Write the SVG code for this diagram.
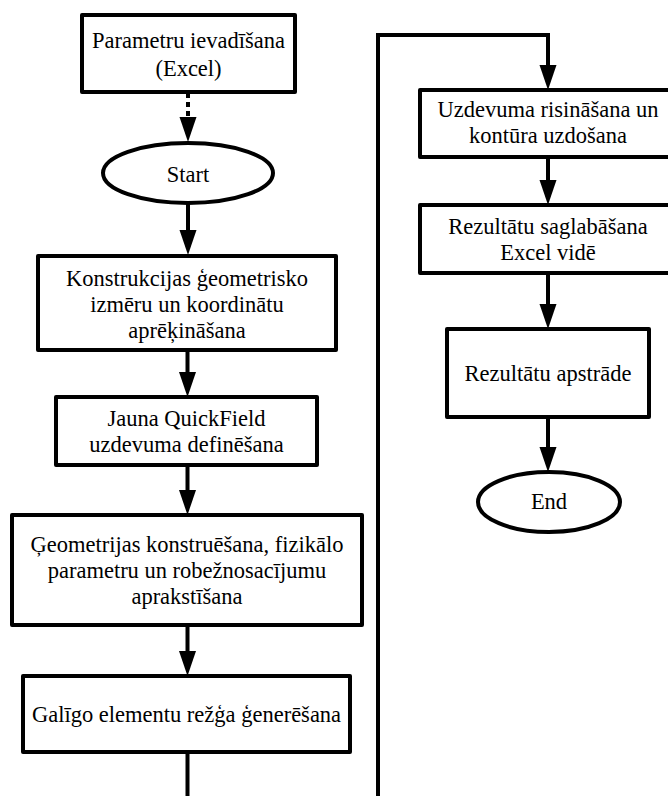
<svg xmlns="http://www.w3.org/2000/svg" width="668" height="796" viewBox="0 0 668 796">
<style>
.box{fill:#fff;stroke:#000;stroke-width:4;stroke-linejoin:round}
.term{fill:#fff;stroke:#000;stroke-width:4}
.lbl{font-family:"Liberation Serif","Times New Roman",serif;font-size:22.5px;fill:#000;text-anchor:middle}
.con{fill:none;stroke:#000;stroke-width:4;marker-end:url(#ah)}
.dot{stroke-dasharray:5 4}
</style>
<defs>
<marker id="ah" markerUnits="userSpaceOnUse" markerWidth="26" markerHeight="18" refX="0" refY="9" orient="auto" overflow="visible">
<path d="M0,0.5 L25,9 L0,17.5 Z" fill="#000"/>
</marker>
</defs>
<rect width="668" height="796" fill="#fff"/>
<g id="connectors">
<path class="con dot" d="M188,93 L188,117"/>
<path class="con" d="M188,203 L188,230"/>
<path class="con" d="M187.5,350 L187.5,372"/>
<path class="con" d="M187.5,465 L187.5,490"/>
<path class="con" d="M187.5,625 L187.5,651"/>
<path class="con" d="M187.5,752 L187.5,800 L378,800 L378,35 L548,35 L548,65"/>
<path class="con" d="M548,157 L548,180"/>
<path class="con" d="M548,273 L548,304"/>
<path class="con" d="M548,417 L548,447"/>
</g>
<g id="n1">
<rect class="box" x="82" y="15" width="213" height="77"/>
<text class="lbl" x="188.5" y="48">Parametru ievadīšana</text>
<text class="lbl" x="188.5" y="76">(Excel)</text>
</g>
<g id="start">
<ellipse class="term" cx="188" cy="173" rx="85" ry="30"/>
<text class="lbl" x="188" y="182">Start</text>
</g>
<g id="n3">
<rect class="box" x="38" y="256" width="298" height="94"/>
<text class="lbl" x="187" y="286">Konstrukcijas ģeometrisko</text>
<text class="lbl" x="187" y="312">izmēru un koordinātu</text>
<text class="lbl" x="187" y="338">aprēķināšana</text>
</g>
<g id="n4">
<rect class="box" x="56" y="397" width="261" height="68"/>
<text class="lbl" x="186.5" y="426">Jauna QuickField</text>
<text class="lbl" x="186.5" y="452">uzdevuma definēšana</text>
</g>
<g id="n5">
<rect class="box" x="12" y="515" width="350" height="110"/>
<text class="lbl" x="187" y="552">Ģeometrijas konstruēšana, fizikālo</text>
<text class="lbl" x="187" y="578">parametru un robežnosacījumu</text>
<text class="lbl" x="187" y="604">aprakstīšana</text>
</g>
<g id="n6">
<rect class="box" x="23" y="676" width="327" height="76"/>
<text class="lbl" x="186.5" y="722">Galīgo elementu režģa ģenerēšana</text>
</g>
<g id="n7">
<rect class="box" x="420" y="90" width="256" height="67"/>
<text class="lbl" x="548" y="117">Uzdevuma risināšana un</text>
<text class="lbl" x="548" y="143">kontūra uzdošana</text>
</g>
<g id="n8">
<rect class="box" x="420" y="205" width="256" height="68"/>
<text class="lbl" x="548" y="234">Rezultātu saglabāšana</text>
<text class="lbl" x="548" y="260">Excel vidē</text>
</g>
<g id="n9">
<rect class="box" x="447" y="329" width="202" height="88"/>
<text class="lbl" x="548" y="381">Rezultātu apstrāde</text>
</g>
<g id="end">
<ellipse class="term" cx="549" cy="502" rx="71" ry="30"/>
<text class="lbl" x="549" y="509">End</text>
</g>
</svg>
